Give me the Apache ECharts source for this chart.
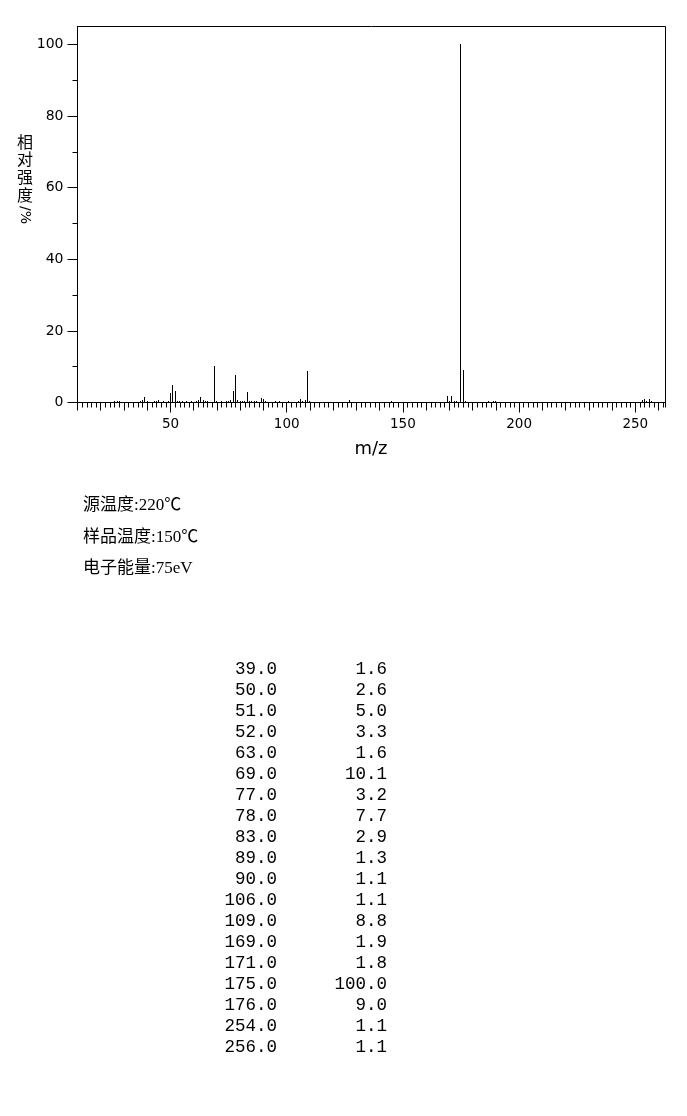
<!DOCTYPE html>
<html>
<head>
<meta charset="utf-8">
<script src="https://cdn.jsdelivr.net/npm/echarts@6/dist/echarts.min.js"></script>
<style>
html,body{margin:0;padding:0;background:#fff;}
#chart{width:687px;height:1116px;}
</style>
</head>
<body>
<div id="chart"></div>
<script>
// m/z values and relative intensities (%)
const mzValues = [26,27,28,37,38,39,40,43,44,45,47,49,50,51,52,53,54,55,57,59,61,62,63,64,65,66,69,70,72,74,75,76,77,78,79,80,81,82,83,84,85,86,87,89,90,91,95,97,101,105,106,107,108,109,110,127,145,169,170,171,172,173,175,176,177,187,189,190,253,254,255,256,257];
const intensities = [0.5,0.5,0.3,0.4,0.6,1.6,0.3,0.5,0.4,0.6,0.3,0.3,2.6,5.0,3.3,0.4,0.3,0.4,0.3,0.3,0.3,0.8,1.6,0.6,0.4,0.4,10.1,0.3,0.3,0.4,0.4,0.8,3.2,7.7,0.8,0.3,0.3,0.3,2.9,0.3,0.3,0.3,0.3,1.3,1.1,0.3,0.3,0.3,0.3,0.4,1.1,0.5,0.7,8.8,0.4,0.6,0.3,1.9,0.4,1.8,0.3,0.3,100.0,9.0,0.5,0.3,0.4,0.3,0.6,1.1,0.5,1.1,0.3];
const xLabelTicks = [50,100,150,200,250];
const yLabelTicks = [0,20,40,60,80,100];
const yAxisName = ['相','对','强','度'];
const yAxisUnit = '/%';
const xAxisName = 'm/z';
const infoLines = ['源温度:220℃','样品温度:150℃','电子能量:75eV'];
const X_MIN = 10, X_MAX = 263, Y_MAX = 105;

const tenTicks = [];
for (let v = 10; v <= 260; v += 10) tenTicks.push(v);
const yMinorTicks = [];
for (let v = 10; v <= 90; v += 20) yMinorTicks.push(v);

const peaks = mzValues.map((m, i) => [m, intensities[i]]);
const tableRows = peaks.filter(p => p[1] >= 1.0);

const graphics = [];
graphics.push({type:'text', left:17, top:133, style:{text: yAxisName.join('\n'), font:'16px "Noto Sans CJK SC"', lineHeight:17.6, fill:'#000'}});
graphics.push({type:'text', x:25, y:215, rotation:-Math.PI/2, style:{text: yAxisUnit, font:'14px "DejaVu Sans"', fill:'#000', align:'center', verticalAlign:'middle'}});
graphics.push({type:'text', x:371, y:449, style:{text: xAxisName, font:'18px "DejaVu Sans"', fill:'#000', align:'center', verticalAlign:'middle'}});
infoLines.forEach((t, i) => {
  graphics.push({type:'text', x:83, y:506 + i*31.5, style:{text:t, font:'17px "Liberation Serif", "Noto Sans CJK SC"', fill:'#000', verticalAlign:'middle'}});
});
tableRows.forEach((r, i) => {
  const y = 669 + i*21;
  graphics.push({type:'text', x:277, y:y, style:{text:r[0].toFixed(1), font:'17.5px "Liberation Mono"', fill:'#000', align:'right', verticalAlign:'middle'}});
  graphics.push({type:'text', x:387, y:y, style:{text:r[1].toFixed(1), font:'17.5px "Liberation Mono"', fill:'#000', align:'right', verticalAlign:'middle'}});
});

const lineStyleBlack = {color:'#000', width:1};
const chart = echarts.init(document.getElementById('chart'), null, {renderer:'canvas'});
chart.setOption({
  animation:false,
  backgroundColor:'#fff',
  grid:{left:77.5, top:26.5, width:588, height:376, show:true, borderColor:'#000', borderWidth:1, containLabel:false},
  xAxis:[
    {type:'value', position:'bottom', min:X_MIN, max:X_MAX, interval:2, splitLine:{show:false},
     axisLine:{show:true, lineStyle:lineStyleBlack}, axisTick:{show:true, length:5, lineStyle:lineStyleBlack}, axisLabel:{show:false}},
    {type:'value', position:'bottom', min:X_MIN, max:X_MAX, splitLine:{show:false},
     axisLine:{show:false}, axisTick:{show:true, length:8, customValues:tenTicks, lineStyle:lineStyleBlack}, axisLabel:{show:false}},
    {type:'value', position:'bottom', min:X_MIN, max:X_MAX, splitLine:{show:false},
     axisLine:{show:false}, axisTick:{show:true, length:10, customValues:xLabelTicks, lineStyle:lineStyleBlack},
     axisLabel:{show:true, customValues:xLabelTicks, margin:15, color:'#000', fontFamily:'DejaVu Sans', fontSize:13.5}}
  ],
  yAxis:[
    {type:'value', position:'left', min:0, max:Y_MAX, splitLine:{show:false},
     axisLine:{show:true, lineStyle:lineStyleBlack}, axisTick:{show:true, length:10, customValues:yLabelTicks, lineStyle:lineStyleBlack},
     axisLabel:{show:true, customValues:yLabelTicks, margin:14, color:'#000', fontFamily:'DejaVu Sans', fontSize:14}},
    {type:'value', position:'left', min:0, max:Y_MAX, splitLine:{show:false},
     axisLine:{show:false}, axisTick:{show:true, length:5, customValues:yMinorTicks, lineStyle:lineStyleBlack}, axisLabel:{show:false}}
  ],
  series:[{
    type:'custom',
    xAxisIndex:0, yAxisIndex:0,
    data: peaks,
    renderItem: function(params, api){
      const top = api.coord([api.value(0), api.value(1)]);
      const base = api.coord([api.value(0), 0]);
      const x = Math.round(top[0] - 0.5) + 0.5;
      return {type:'line', shape:{x1:x, y1:Math.round(base[1]), x2:x, y2:Math.round(top[1])}, style:{stroke:'#000', lineWidth:1}};
    }
  }],
  graphic: graphics
});
</script>
</body>
</html>
